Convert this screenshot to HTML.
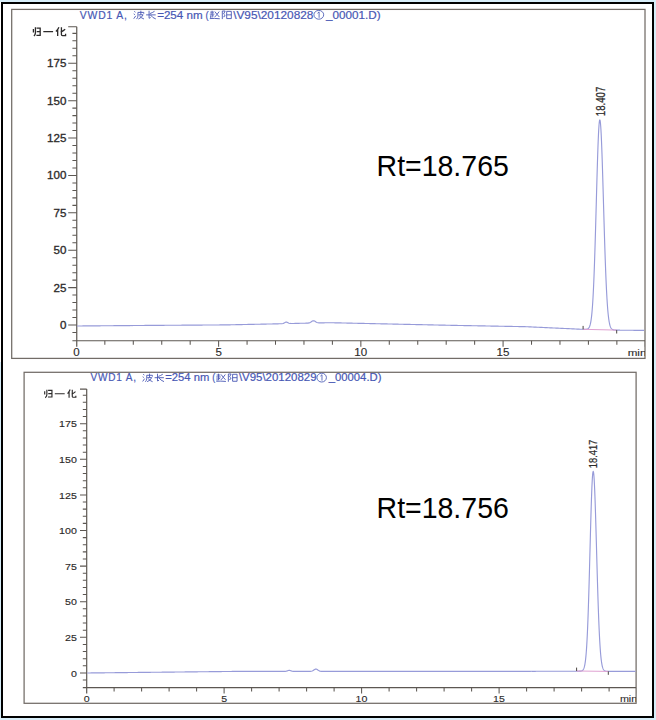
<!DOCTYPE html>
<html><head><meta charset="utf-8"><style>
html,body{margin:0;padding:0;background:#fff;}
body{width:656px;height:720px;overflow:hidden;}
svg{display:block;font-family:"Liberation Sans", sans-serif;}
</style></head><body>
<svg width="656" height="720" viewBox="0 0 656 720">
<rect x="0" y="0" width="656" height="720" fill="#fff"/>
<rect x="0" y="0" width="656" height="2" fill="#d7edf8"/>
<rect x="654" y="0" width="2" height="720" fill="#d7edf8"/>
<rect x="0" y="718" width="656" height="2" fill="#d7edf8"/>
<rect x="0" y="362" width="1" height="358" fill="#d7edf8"/>
<rect x="2" y="3" width="651" height="714" fill="none" stroke="#000" stroke-width="2"/>
<clipPath id="c1"><rect x="11.7" y="9.4" width="633.3" height="349.0"/></clipPath>
<rect x="11.7" y="9.4" width="633.3" height="349.0" fill="none" stroke="#726c67" stroke-width="1.25"/>
<g clip-path="url(#c1)">
<path d="M76.75 26.70V346.70" stroke="#5c5752" stroke-width="1.2" fill="none"/>
<path d="M72.40 340.70H645.30" stroke="#5c5752" stroke-width="1.15" fill="none"/>
<path d="M72.40 332.48H76.75 M68.20 325.00H76.75 M72.40 317.52H76.75 M72.40 310.04H76.75 M72.40 302.57H76.75 M72.40 295.09H76.75 M68.20 287.61H76.75 M72.40 280.13H76.75 M72.40 272.65H76.75 M72.40 265.18H76.75 M72.40 257.70H76.75 M68.20 250.22H76.75 M72.40 242.74H76.75 M72.40 235.26H76.75 M72.40 227.79H76.75 M72.40 220.31H76.75 M68.20 212.83H76.75 M72.40 205.35H76.75 M72.40 197.87H76.75 M72.40 190.40H76.75 M72.40 182.92H76.75 M68.20 175.44H76.75 M72.40 167.96H76.75 M72.40 160.48H76.75 M72.40 153.01H76.75 M72.40 145.53H76.75 M68.20 138.05H76.75 M72.40 130.57H76.75 M72.40 123.09H76.75 M72.40 115.62H76.75 M72.40 108.14H76.75 M68.20 100.66H76.75 M72.40 93.18H76.75 M72.40 85.70H76.75 M72.40 78.23H76.75 M72.40 70.75H76.75 M68.20 63.27H76.75 M72.40 55.79H76.75 M72.40 48.31H76.75 M72.40 40.84H76.75 M72.40 33.36H76.75 M68.20 26.70H76.75 M104.84 340.70V344.70 M133.29 340.70V344.70 M161.74 340.70V344.70 M190.18 340.70V344.70 M218.62 340.70V346.70 M247.07 340.70V344.70 M275.51 340.70V344.70 M303.96 340.70V344.70 M332.40 340.70V344.70 M360.85 340.70V346.70 M389.29 340.70V344.70 M417.74 340.70V344.70 M446.19 340.70V344.70 M474.63 340.70V344.70 M503.08 340.70V346.70 M531.52 340.70V344.70 M559.97 340.70V344.70 M588.41 340.70V344.70 M616.86 340.70V344.70 M645.30 340.70V346.70" stroke="#5c5752" stroke-width="1.05" fill="none"/>
<text transform="translate(59.91,328.90) scale(1.1350,1)" font-size="10.2" fill="#2c2a2a" stroke="#2c2a2a" stroke-width="0.3">0</text>
<text transform="translate(53.51,291.51) scale(1.1350,1)" font-size="10.2" fill="#2c2a2a" stroke="#2c2a2a" stroke-width="0.3">25</text>
<text transform="translate(53.48,254.12) scale(1.1350,1)" font-size="10.2" fill="#2c2a2a" stroke="#2c2a2a" stroke-width="0.3">50</text>
<text transform="translate(53.51,216.73) scale(1.1350,1)" font-size="10.2" fill="#2c2a2a" stroke="#2c2a2a" stroke-width="0.3">75</text>
<text transform="translate(47.04,179.34) scale(1.1350,1)" font-size="10.2" fill="#2c2a2a" stroke="#2c2a2a" stroke-width="0.3">100</text>
<text transform="translate(47.07,141.95) scale(1.1350,1)" font-size="10.2" fill="#2c2a2a" stroke="#2c2a2a" stroke-width="0.3">125</text>
<text transform="translate(47.04,104.56) scale(1.1350,1)" font-size="10.2" fill="#2c2a2a" stroke="#2c2a2a" stroke-width="0.3">150</text>
<text transform="translate(47.07,67.17) scale(1.1350,1)" font-size="10.2" fill="#2c2a2a" stroke="#2c2a2a" stroke-width="0.3">175</text>
<path transform="translate(32.00,27.00) scale(0.8800,0.9000)" d="M1.6 2.2V6.2 M3.9 0.3V6.5Q3.8 8.6 2.2 10 M5.2 1.2H9.3V9.2H5.0 M5.4 5.1H9.2" fill="none" stroke="#2c2a2a" stroke-width="1.3" vector-effect="non-scaling-stroke"/>
<path transform="translate(43.00,27.00) scale(1.0400,0.9000)" d="M0.3 5.2H9.7" fill="none" stroke="#2c2a2a" stroke-width="1.3" vector-effect="non-scaling-stroke"/>
<path transform="translate(55.60,27.00) scale(1.0400,0.9000)" d="M3.2 0.2Q2.2 3 0.3 5 M2.0 3.2V10 M9.2 2.6Q7.2 4.6 4.8 5.8 M5.6 0.3V8.6Q5.6 9.5 6.6 9.5H9.6V7.6" fill="none" stroke="#2c2a2a" stroke-width="1.3" vector-effect="non-scaling-stroke"/>
<text transform="translate(73.18,356.10) scale(1.1350,1)" font-size="10.2" fill="#2c2a2a" stroke="#2c2a2a" stroke-width="0.12">0</text>
<text transform="translate(215.42,356.10) scale(1.1350,1)" font-size="10.2" fill="#2c2a2a" stroke="#2c2a2a" stroke-width="0.12">5</text>
<text transform="translate(354.20,356.10) scale(1.1350,1)" font-size="10.2" fill="#2c2a2a" stroke="#2c2a2a" stroke-width="0.12">10</text>
<text transform="translate(496.44,356.10) scale(1.1350,1)" font-size="10.2" fill="#2c2a2a" stroke="#2c2a2a" stroke-width="0.12">15</text>
<text transform="translate(627.63,356.10) scale(1.2500,1)" font-size="9.3" fill="#2c2a2a" stroke="#2c2a2a" stroke-width="0.12">min</text>
<text transform="translate(79.75,18.50) scale(1.0000,1)" font-size="10.4" letter-spacing="0.820" fill="#4757b4" stroke="#4757b4" stroke-width="0.18">VWD1 A,</text>
<path transform="translate(133.40,10.50) scale(1.0800,0.8600)" d="M0.8 1.0L1.9 2.0 M0.3 3.9L1.4 4.9 M0.3 9.6L2.2 6.2 M4.2 2.2H9.6V3.8 M6.9 0.2V5.0 M4.2 2.2V6.5Q4.0 8.6 2.9 10 M4.7 5.0H9.0Q7.8 8.4 4.6 9.9 M5.6 6.3Q7.4 8.9 9.8 9.9" fill="none" stroke="#4757b4" stroke-width="0.9" vector-effect="non-scaling-stroke"/>
<path transform="translate(145.80,10.50) scale(1.0200,0.8600)" d="M3.2 0.3V9.0L4.8 8.2 M8.6 0.9Q6.4 2.6 4.0 3.6 M0.3 5.1H9.7 M4.6 5.2Q6.6 8.6 9.8 9.8" fill="none" stroke="#4757b4" stroke-width="0.9" vector-effect="non-scaling-stroke"/>
<text transform="translate(157.13,18.50) scale(1.1170,1)" font-size="10.4" fill="#4757b4" stroke="#4757b4" stroke-width="0.18">=254 nm</text>
<text transform="translate(205.62,18.50) scale(0.9066,1)" font-size="10.4" fill="#4757b4" stroke="#4757b4" stroke-width="0.18">(</text>
<path transform="translate(209.60,10.50) scale(1.0400,0.8600)" d="M0.6 1.9H4.2 M2.4 0.3V4.2 M0.2 4.2H4.6 M2.4 4.2V8.2 M2.4 6.2H4.0 M1.0 5.6V8.6 M0.2 9.4Q4.5 8.9 9.8 9.6 M5.0 1.2Q7.0 4.6 9.4 7.6 M9.2 1.2Q7.0 5.2 4.8 7.8" fill="none" stroke="#4757b4" stroke-width="0.9" vector-effect="non-scaling-stroke"/>
<path transform="translate(221.20,10.50) scale(1.1000,0.8600)" d="M1.0 0.6V10 M1.0 0.6H3.6L2.2 4.0Q3.8 5.4 3.3 6.6Q3.0 7.5 2.0 7.2 M5.0 1.0H9.2V9.4H5.0Z M5.0 5.1H9.2" fill="none" stroke="#4757b4" stroke-width="0.9" vector-effect="non-scaling-stroke"/>
<text transform="translate(233.20,18.50) scale(1.1383,1)" font-size="10.4" fill="#4757b4" stroke="#4757b4" stroke-width="0.18">\V95\20120828</text>
<ellipse cx="318.80" cy="14.80" rx="4.90" ry="4.40" fill="none" stroke="#4757b4" stroke-width="0.85"/><path d="M317.50 13.30L319.10 11.90V17.80" fill="none" stroke="#4757b4" stroke-width="0.85"/>
<text transform="translate(326.08,18.50) scale(1.1231,1)" font-size="10.4" fill="#4757b4" stroke="#4757b4" stroke-width="0.18">_00001.D)</text>
</g>
<path d="M77.00 325.99 L78.00 325.98 L79.00 325.98 L80.00 325.97 L81.00 325.96 L82.00 325.95 L83.00 325.94 L84.00 325.94 L85.00 325.93 L86.00 325.92 L87.00 325.91 L88.00 325.90 L89.00 325.89 L90.00 325.89 L91.00 325.88 L92.00 325.87 L93.00 325.86 L94.00 325.85 L95.00 325.85 L96.00 325.84 L97.00 325.83 L98.00 325.82 L99.00 325.81 L100.00 325.81 L101.00 325.80 L102.00 325.79 L103.00 325.78 L104.00 325.77 L105.00 325.76 L106.00 325.76 L107.00 325.75 L108.00 325.74 L109.00 325.73 L110.00 325.72 L111.00 325.72 L112.00 325.71 L113.00 325.70 L114.00 325.69 L115.00 325.68 L116.00 325.68 L117.00 325.67 L118.00 325.66 L119.00 325.65 L120.00 325.64 L121.00 325.64 L122.00 325.63 L123.00 325.62 L124.00 325.61 L125.00 325.60 L126.00 325.59 L127.00 325.59 L128.00 325.58 L129.00 325.57 L130.00 325.56 L131.00 325.55 L132.00 325.55 L133.00 325.54 L134.00 325.53 L135.00 325.52 L136.00 325.51 L137.00 325.51 L138.00 325.50 L139.00 325.49 L140.00 325.48 L141.00 325.47 L142.00 325.46 L143.00 325.46 L144.00 325.45 L145.00 325.44 L146.00 325.43 L147.00 325.42 L148.00 325.42 L149.00 325.41 L150.00 325.40 L151.00 325.39 L152.00 325.39 L153.00 325.38 L154.00 325.37 L155.00 325.37 L156.00 325.36 L157.00 325.35 L158.00 325.35 L159.00 325.34 L160.00 325.33 L161.00 325.33 L162.00 325.32 L163.00 325.31 L164.00 325.31 L165.00 325.30 L166.00 325.29 L167.00 325.29 L168.00 325.28 L169.00 325.27 L170.00 325.27 L171.00 325.26 L172.00 325.26 L173.00 325.25 L174.00 325.24 L175.00 325.24 L176.00 325.23 L177.00 325.22 L178.00 325.22 L179.00 325.21 L180.00 325.20 L181.00 325.20 L182.00 325.19 L183.00 325.18 L184.00 325.18 L185.00 325.17 L186.00 325.16 L187.00 325.16 L188.00 325.15 L189.00 325.14 L190.00 325.14 L191.00 325.13 L192.00 325.12 L193.00 325.12 L194.00 325.11 L195.00 325.10 L196.00 325.10 L197.00 325.09 L198.00 325.08 L199.00 325.08 L200.00 325.07 L201.00 325.06 L202.00 325.06 L203.00 325.05 L204.00 325.04 L205.00 325.04 L206.00 325.03 L207.00 325.02 L208.00 325.02 L209.00 325.01 L210.00 325.01 L211.00 325.00 L212.00 324.99 L213.00 324.99 L214.00 324.98 L215.00 324.97 L216.00 324.97 L217.00 324.96 L218.00 324.95 L219.00 324.95 L220.00 324.94 L221.00 324.93 L222.00 324.93 L223.00 324.92 L224.00 324.91 L225.00 324.91 L226.00 324.90 L227.00 324.88 L228.00 324.86 L229.00 324.84 L230.00 324.82 L231.00 324.80 L232.00 324.78 L233.00 324.76 L234.00 324.73 L235.00 324.71 L236.00 324.69 L237.00 324.67 L238.00 324.65 L239.00 324.63 L240.00 324.61 L241.00 324.59 L242.00 324.57 L243.00 324.55 L244.00 324.53 L245.00 324.51 L246.00 324.49 L247.00 324.47 L248.00 324.44 L249.00 324.42 L250.00 324.40 L251.00 324.38 L252.00 324.36 L253.00 324.34 L254.00 324.32 L255.00 324.30 L256.00 324.28 L257.00 324.26 L258.00 324.24 L259.00 324.22 L260.00 324.20 L261.00 324.18 L262.00 324.16 L263.00 324.13 L264.00 324.11 L265.00 324.09 L266.00 324.07 L267.00 324.05 L268.00 324.03 L269.00 324.01 L270.00 323.99 L271.00 323.97 L272.00 323.95 L273.00 323.93 L274.00 323.91 L275.00 323.89 L276.00 323.87 L277.00 323.84 L278.00 323.82 L279.00 323.80 L280.00 323.78 L281.00 323.76 L282.00 323.70 L283.00 323.53 L284.00 323.13 L285.00 322.52 L286.00 322.08 L287.00 322.17 L288.00 322.69 L289.00 323.19 L290.00 323.44 L291.00 323.50 L292.00 323.50 L293.00 323.47 L294.00 323.45 L295.00 323.42 L296.00 323.40 L297.00 323.37 L298.00 323.35 L299.00 323.32 L300.00 323.30 L301.00 323.28 L302.00 323.26 L303.00 323.24 L304.00 323.22 L305.00 323.20 L306.00 323.18 L307.00 323.15 L308.00 323.09 L309.00 322.94 L310.00 322.60 L311.00 322.03 L312.00 321.32 L313.00 320.81 L314.00 320.79 L315.00 321.26 L316.00 321.93 L317.00 322.46 L318.00 322.76 L319.00 322.87 L320.00 322.89 L321.00 322.88 L322.00 322.86 L323.00 322.84 L324.00 322.82 L325.00 322.80 L326.00 322.78 L327.00 322.76 L328.00 322.74 L329.00 322.72 L330.00 322.70 L331.00 322.72 L332.00 322.74 L333.00 322.77 L334.00 322.79 L335.00 322.81 L336.00 322.83 L337.00 322.85 L338.00 322.87 L339.00 322.90 L340.00 322.92 L341.00 322.94 L342.00 322.96 L343.00 322.98 L344.00 323.00 L345.00 323.03 L346.00 323.05 L347.00 323.07 L348.00 323.09 L349.00 323.11 L350.00 323.13 L351.00 323.16 L352.00 323.18 L353.00 323.20 L354.00 323.22 L355.00 323.24 L356.00 323.27 L357.00 323.29 L358.00 323.31 L359.00 323.33 L360.00 323.35 L361.00 323.37 L362.00 323.40 L363.00 323.42 L364.00 323.44 L365.00 323.46 L366.00 323.48 L367.00 323.50 L368.00 323.53 L369.00 323.55 L370.00 323.57 L371.00 323.59 L372.00 323.61 L373.00 323.63 L374.00 323.66 L375.00 323.68 L376.00 323.70 L377.00 323.72 L378.00 323.74 L379.00 323.76 L380.00 323.79 L381.00 323.81 L382.00 323.83 L383.00 323.85 L384.00 323.87 L385.00 323.89 L386.00 323.92 L387.00 323.94 L388.00 323.96 L389.00 323.98 L390.00 324.00 L391.00 324.02 L392.00 324.05 L393.00 324.07 L394.00 324.09 L395.00 324.11 L396.00 324.13 L397.00 324.15 L398.00 324.18 L399.00 324.20 L400.00 324.22 L401.00 324.24 L402.00 324.26 L403.00 324.28 L404.00 324.31 L405.00 324.33 L406.00 324.35 L407.00 324.37 L408.00 324.39 L409.00 324.41 L410.00 324.44 L411.00 324.46 L412.00 324.48 L413.00 324.50 L414.00 324.52 L415.00 324.54 L416.00 324.56 L417.00 324.59 L418.00 324.61 L419.00 324.63 L420.00 324.65 L421.00 324.67 L422.00 324.69 L423.00 324.72 L424.00 324.74 L425.00 324.76 L426.00 324.78 L427.00 324.80 L428.00 324.82 L429.00 324.85 L430.00 324.87 L431.00 324.89 L432.00 324.91 L433.00 324.93 L434.00 324.95 L435.00 324.98 L436.00 325.00 L437.00 325.02 L438.00 325.04 L439.00 325.06 L440.00 325.08 L441.00 325.11 L442.00 325.13 L443.00 325.15 L444.00 325.17 L445.00 325.19 L446.00 325.21 L447.00 325.24 L448.00 325.26 L449.00 325.28 L450.00 325.30 L451.00 325.32 L452.00 325.34 L453.00 325.36 L454.00 325.37 L455.00 325.39 L456.00 325.41 L457.00 325.43 L458.00 325.45 L459.00 325.47 L460.00 325.48 L461.00 325.50 L462.00 325.52 L463.00 325.54 L464.00 325.56 L465.00 325.58 L466.00 325.59 L467.00 325.61 L468.00 325.63 L469.00 325.65 L470.00 325.67 L471.00 325.69 L472.00 325.71 L473.00 325.72 L474.00 325.74 L475.00 325.76 L476.00 325.78 L477.00 325.80 L478.00 325.82 L479.00 325.83 L480.00 325.85 L481.00 325.87 L482.00 325.89 L483.00 325.91 L484.00 325.93 L485.00 325.94 L486.00 325.96 L487.00 325.98 L488.00 326.00 L489.00 326.02 L490.00 326.04 L491.00 326.06 L492.00 326.07 L493.00 326.09 L494.00 326.11 L495.00 326.13 L496.00 326.15 L497.00 326.17 L498.00 326.18 L499.00 326.20 L500.00 326.22 L501.00 326.24 L502.00 326.26 L503.00 326.28 L504.00 326.29 L505.00 326.31 L506.00 326.33 L507.00 326.35 L508.00 326.37 L509.00 326.39 L510.00 326.41 L511.00 326.42 L512.00 326.44 L513.00 326.46 L514.00 326.48 L515.00 326.50 L516.00 326.52 L517.00 326.53 L518.00 326.55 L519.00 326.57 L520.00 326.59 L521.00 326.61 L522.00 326.63 L523.00 326.64 L524.00 326.66 L525.00 326.68 L526.00 326.70 L527.00 326.75 L528.00 326.79 L529.00 326.84 L530.00 326.89 L531.00 326.93 L532.00 326.98 L533.00 327.02 L534.00 327.07 L535.00 327.12 L536.00 327.16 L537.00 327.21 L538.00 327.26 L539.00 327.30 L540.00 327.35 L541.00 327.39 L542.00 327.44 L543.00 327.49 L544.00 327.53 L545.00 327.58 L546.00 327.63 L547.00 327.67 L548.00 327.72 L549.00 327.76 L550.00 327.81 L551.00 327.86 L552.00 327.90 L553.00 327.95 L554.00 328.00 L555.00 328.04 L556.00 328.09 L557.00 328.14 L558.00 328.18 L559.00 328.23 L560.00 328.27 L561.00 328.32 L562.00 328.37 L563.00 328.41 L564.00 328.46 L565.00 328.51 L566.00 328.55 L567.00 328.60 L568.00 328.64 L569.00 328.69 L570.00 328.74 L571.00 328.78 L572.00 328.83 L573.00 328.88 L574.00 328.92 L575.00 328.97 L576.00 329.01 L577.00 329.06 L578.00 329.11 L579.00 329.15 L580.00 329.20 L580.25 329.21 L580.50 329.21 L580.75 329.22 L581.00 329.22 L581.25 329.23 L581.50 329.24 L581.75 329.24 L582.00 329.25 L582.25 329.26 L582.50 329.26 L582.75 329.27 L583.00 329.27 L583.25 329.28 L583.50 329.28 L583.75 329.29 L584.00 329.29 L584.25 329.30 L584.50 329.30 L584.75 329.30 L585.00 329.30 L585.25 329.29 L585.50 329.29 L585.75 329.28 L586.00 329.26 L586.25 329.24 L586.50 329.21 L586.75 329.17 L587.00 329.11 L587.25 329.04 L587.50 328.95 L587.75 328.83 L588.00 328.69 L588.25 328.50 L588.50 328.27 L588.75 327.98 L589.00 327.63 L589.25 327.20 L589.50 326.68 L589.75 326.04 L590.00 325.29 L590.25 324.38 L590.50 323.32 L590.75 322.06 L591.00 320.58 L591.25 318.87 L591.50 316.88 L591.75 314.60 L592.00 311.99 L592.25 309.02 L592.50 305.68 L592.75 301.93 L593.00 297.75 L593.25 293.11 L593.50 288.02 L593.75 282.45 L594.00 276.40 L594.25 269.88 L594.50 262.90 L594.75 255.48 L595.00 247.65 L595.25 239.46 L595.50 230.95 L595.75 222.18 L596.00 213.23 L596.25 204.17 L596.50 195.10 L596.75 186.10 L597.00 177.28 L597.25 168.74 L597.50 160.58 L597.75 152.91 L598.00 145.84 L598.25 139.45 L598.50 133.85 L598.75 129.10 L599.00 125.28 L599.25 122.46 L599.50 120.66 L599.75 119.92 L600.00 120.21 L600.25 121.47 L600.50 123.68 L600.75 126.81 L601.00 130.82 L601.25 135.64 L601.50 141.23 L601.75 147.49 L602.00 154.37 L602.25 161.76 L602.50 169.59 L602.75 177.75 L603.00 186.17 L603.25 194.75 L603.50 203.40 L603.75 212.05 L604.00 220.61 L604.25 229.02 L604.50 237.21 L604.75 245.13 L605.00 252.73 L605.25 259.97 L605.50 266.83 L605.75 273.27 L606.00 279.30 L606.25 284.89 L606.50 290.05 L606.75 294.78 L607.00 299.09 L607.25 303.00 L607.50 306.52 L607.75 309.68 L608.00 312.49 L608.25 314.99 L608.50 317.18 L608.75 319.11 L609.00 320.79 L609.25 322.24 L609.50 323.50 L609.75 324.57 L610.00 325.49 L610.25 326.27 L610.50 326.94 L610.75 327.49 L611.00 327.96 L611.25 328.34 L611.50 328.67 L611.75 328.93 L612.00 329.15 L612.25 329.33 L612.50 329.48 L612.75 329.60 L613.00 329.69 L613.25 329.77 L613.50 329.84 L613.75 329.89 L614.00 329.93 L614.25 329.96 L614.50 329.99 L614.75 330.02 L615.00 330.03 L615.25 330.05 L615.50 330.06 L615.75 330.08 L616.00 330.09 L616.25 330.10 L616.50 330.11 L616.75 330.11 L617.00 330.12 L617.25 330.13 L617.50 330.14 L617.75 330.14 L618.00 330.15 L618.25 330.16 L618.50 330.16 L618.75 330.17 L619.00 330.17 L619.25 330.18 L619.50 330.19 L619.75 330.19 L620.00 330.20 L621.00 330.21 L622.00 330.22 L623.00 330.22 L624.00 330.23 L625.00 330.24 L626.00 330.25 L627.00 330.25 L628.00 330.26 L629.00 330.27 L630.00 330.28 L631.00 330.28 L632.00 330.29 L633.00 330.30 L634.00 330.31 L635.00 330.32 L636.00 330.32 L637.00 330.33 L638.00 330.34 L639.00 330.35 L640.00 330.35 L641.00 330.36 L642.00 330.37 L643.00 330.38 L644.00 330.38" stroke="#979bd9" stroke-width="1.15" fill="none" stroke-linejoin="round"/>
<path d="M583.10 329.30L616.70 330.10" stroke="#e0a2d2" stroke-width="1" fill="none"/>
<path d="M583.10 325.90V329.30 M616.70 330.10V333.50" stroke="#4a4540" stroke-width="1" fill="none"/>
<text transform="translate(604.80,116.13) scale(1.3104,1) rotate(-90)" font-size="9.618" fill="#2c2a2a" stroke="#2c2a2a" stroke-width="0.2">18.407</text>
<text transform="translate(376.56,175.6) scale(1,1.04)" font-size="28.5" fill="#000">Rt=18.765</text>
<clipPath id="c2"><rect x="24.1" y="372.3" width="612.0" height="330.99999999999994"/></clipPath>
<rect x="24.1" y="372.3" width="612.0" height="330.99999999999994" fill="none" stroke="#726c67" stroke-width="1.25"/>
<g clip-path="url(#c2)">
<path d="M86.70 389.10V693.40" stroke="#5c5752" stroke-width="1.2" fill="none"/>
<path d="M82.80 687.60H636.60" stroke="#5c5752" stroke-width="1.15" fill="none"/>
<path d="M82.80 680.02H86.70 M80.00 672.90H86.70 M82.80 665.78H86.70 M82.80 658.66H86.70 M82.80 651.54H86.70 M82.80 644.42H86.70 M80.00 637.30H86.70 M82.80 630.18H86.70 M82.80 623.06H86.70 M82.80 615.94H86.70 M82.80 608.82H86.70 M80.00 601.70H86.70 M82.80 594.58H86.70 M82.80 587.46H86.70 M82.80 580.34H86.70 M82.80 573.22H86.70 M80.00 566.10H86.70 M82.80 558.98H86.70 M82.80 551.86H86.70 M82.80 544.74H86.70 M82.80 537.62H86.70 M80.00 530.50H86.70 M82.80 523.38H86.70 M82.80 516.26H86.70 M82.80 509.14H86.70 M82.80 502.02H86.70 M80.00 494.90H86.70 M82.80 487.78H86.70 M82.80 480.66H86.70 M82.80 473.54H86.70 M82.80 466.42H86.70 M80.00 459.30H86.70 M82.80 452.18H86.70 M82.80 445.06H86.70 M82.80 437.94H86.70 M82.80 430.82H86.70 M80.00 423.70H86.70 M82.80 416.58H86.70 M82.80 409.46H86.70 M82.80 402.34H86.70 M82.80 395.22H86.70 M80.00 389.10H86.70 M114.10 687.60V691.50 M141.60 687.60V691.50 M169.10 687.60V691.50 M196.60 687.60V691.50 M224.10 687.60V693.40 M251.60 687.60V691.50 M279.10 687.60V691.50 M306.60 687.60V691.50 M334.10 687.60V691.50 M361.60 687.60V693.40 M389.10 687.60V691.50 M416.60 687.60V691.50 M444.10 687.60V691.50 M471.60 687.60V691.50 M499.10 687.60V693.40 M526.60 687.60V691.50 M554.10 687.60V691.50 M581.60 687.60V691.50 M609.10 687.60V691.50 M636.60 687.60V693.40" stroke="#5c5752" stroke-width="1.05" fill="none"/>
<text transform="translate(70.90,676.50) scale(1.1200,1)" font-size="9.5" fill="#2c2a2a" stroke="#2c2a2a" stroke-width="0.15">0</text>
<text transform="translate(65.01,640.90) scale(1.1200,1)" font-size="9.5" fill="#2c2a2a" stroke="#2c2a2a" stroke-width="0.15">25</text>
<text transform="translate(64.98,605.30) scale(1.1200,1)" font-size="9.5" fill="#2c2a2a" stroke="#2c2a2a" stroke-width="0.15">50</text>
<text transform="translate(65.01,569.70) scale(1.1200,1)" font-size="9.5" fill="#2c2a2a" stroke="#2c2a2a" stroke-width="0.15">75</text>
<text transform="translate(59.06,534.10) scale(1.1200,1)" font-size="9.5" fill="#2c2a2a" stroke="#2c2a2a" stroke-width="0.15">100</text>
<text transform="translate(59.09,498.50) scale(1.1200,1)" font-size="9.5" fill="#2c2a2a" stroke="#2c2a2a" stroke-width="0.15">125</text>
<text transform="translate(59.06,462.90) scale(1.1200,1)" font-size="9.5" fill="#2c2a2a" stroke="#2c2a2a" stroke-width="0.15">150</text>
<text transform="translate(59.09,427.30) scale(1.1200,1)" font-size="9.5" fill="#2c2a2a" stroke="#2c2a2a" stroke-width="0.15">175</text>
<path transform="translate(43.20,389.40) scale(0.9400,0.8300)" d="M1.6 2.2V6.2 M3.9 0.3V6.5Q3.8 8.6 2.2 10 M5.2 1.2H9.3V9.2H5.0 M5.4 5.1H9.2" fill="none" stroke="#2c2a2a" stroke-width="1.15" vector-effect="non-scaling-stroke"/>
<path transform="translate(54.50,389.40) scale(1.0500,0.8300)" d="M0.3 5.2H9.7" fill="none" stroke="#2c2a2a" stroke-width="1.15" vector-effect="non-scaling-stroke"/>
<path transform="translate(67.30,389.40) scale(0.8900,0.8300)" d="M3.2 0.2Q2.2 3 0.3 5 M2.0 3.2V10 M9.2 2.6Q7.2 4.6 4.8 5.8 M5.6 0.3V8.6Q5.6 9.5 6.6 9.5H9.6V7.6" fill="none" stroke="#2c2a2a" stroke-width="1.15" vector-effect="non-scaling-stroke"/>
<text transform="translate(83.64,701.60) scale(1.1200,1)" font-size="9.5" fill="#2c2a2a" stroke="#2c2a2a" stroke-width="0.1">0</text>
<text transform="translate(221.15,701.60) scale(1.1200,1)" font-size="9.5" fill="#2c2a2a" stroke="#2c2a2a" stroke-width="0.1">5</text>
<text transform="translate(355.49,701.60) scale(1.1200,1)" font-size="9.5" fill="#2c2a2a" stroke="#2c2a2a" stroke-width="0.1">10</text>
<text transform="translate(493.00,701.60) scale(1.1200,1)" font-size="9.5" fill="#2c2a2a" stroke="#2c2a2a" stroke-width="0.1">15</text>
<text transform="translate(619.88,701.60) scale(1.2000,1)" font-size="9.0" fill="#2c2a2a" stroke="#2c2a2a" stroke-width="0.1">min</text>
<text transform="translate(90.46,381.20) scale(1.0000,1)" font-size="10.0" letter-spacing="0.833" fill="#4757b4" stroke="#4757b4" stroke-width="0.18">VWD1 A,</text>
<path transform="translate(142.35,373.46) scale(1.0447,0.8319)" d="M0.8 1.0L1.9 2.0 M0.3 3.9L1.4 4.9 M0.3 9.6L2.2 6.2 M4.2 2.2H9.6V3.8 M6.9 0.2V5.0 M4.2 2.2V6.5Q4.0 8.6 2.9 10 M4.7 5.0H9.0Q7.8 8.4 4.6 9.9 M5.6 6.3Q7.4 8.9 9.8 9.9" fill="none" stroke="#4757b4" stroke-width="0.9" vector-effect="non-scaling-stroke"/>
<path transform="translate(154.34,373.46) scale(0.9866,0.8319)" d="M3.2 0.3V9.0L4.8 8.2 M8.6 0.9Q6.4 2.6 4.0 3.6 M0.3 5.1H9.7 M4.6 5.2Q6.6 8.6 9.8 9.8" fill="none" stroke="#4757b4" stroke-width="0.9" vector-effect="non-scaling-stroke"/>
<text transform="translate(165.30,381.20) scale(1.1237,1)" font-size="10.0" fill="#4757b4" stroke="#4757b4" stroke-width="0.18">=254 nm</text>
<text transform="translate(212.20,381.20) scale(0.9121,1)" font-size="10.0" fill="#4757b4" stroke="#4757b4" stroke-width="0.18">(</text>
<path transform="translate(216.06,373.46) scale(1.0060,0.8319)" d="M0.6 1.9H4.2 M2.4 0.3V4.2 M0.2 4.2H4.6 M2.4 4.2V8.2 M2.4 6.2H4.0 M1.0 5.6V8.6 M0.2 9.4Q4.5 8.9 9.8 9.6 M5.0 1.2Q7.0 4.6 9.4 7.6 M9.2 1.2Q7.0 5.2 4.8 7.8" fill="none" stroke="#4757b4" stroke-width="0.9" vector-effect="non-scaling-stroke"/>
<path transform="translate(227.28,373.46) scale(1.0640,0.8319)" d="M1.0 0.6V10 M1.0 0.6H3.6L2.2 4.0Q3.8 5.4 3.3 6.6Q3.0 7.5 2.0 7.2 M5.0 1.0H9.2V9.4H5.0Z M5.0 5.1H9.2" fill="none" stroke="#4757b4" stroke-width="0.9" vector-effect="non-scaling-stroke"/>
<text transform="translate(238.88,381.20) scale(1.1458,1)" font-size="10.0" fill="#4757b4" stroke="#4757b4" stroke-width="0.18">\V95\20120829</text>
<ellipse cx="321.68" cy="377.62" rx="4.74" ry="4.40" fill="none" stroke="#4757b4" stroke-width="0.85"/><path d="M320.38 376.12L321.98 374.72V380.62" fill="none" stroke="#4757b4" stroke-width="0.85"/>
<text transform="translate(328.72,381.20) scale(1.1299,1)" font-size="10.0" fill="#4757b4" stroke="#4757b4" stroke-width="0.18">_00004.D)</text>
</g>
<path d="M87.20 672.99 L88.20 672.98 L89.20 672.97 L90.20 672.96 L91.20 672.94 L92.20 672.93 L93.20 672.92 L94.20 672.91 L95.20 672.90 L96.20 672.89 L97.20 672.88 L98.20 672.87 L99.20 672.86 L100.20 672.85 L101.20 672.84 L102.20 672.83 L103.20 672.82 L104.20 672.81 L105.20 672.80 L106.20 672.78 L107.20 672.77 L108.20 672.76 L109.20 672.75 L110.20 672.74 L111.20 672.73 L112.20 672.72 L113.20 672.71 L114.20 672.70 L115.20 672.69 L116.20 672.68 L117.20 672.67 L118.20 672.66 L119.20 672.65 L120.20 672.64 L121.20 672.62 L122.20 672.61 L123.20 672.60 L124.20 672.59 L125.20 672.58 L126.20 672.57 L127.20 672.56 L128.20 672.55 L129.20 672.54 L130.20 672.53 L131.20 672.52 L132.20 672.51 L133.20 672.50 L134.20 672.49 L135.20 672.48 L136.20 672.46 L137.20 672.45 L138.20 672.44 L139.20 672.43 L140.20 672.42 L141.20 672.41 L142.20 672.40 L143.20 672.39 L144.20 672.38 L145.20 672.37 L146.20 672.36 L147.20 672.35 L148.20 672.34 L149.20 672.33 L150.20 672.32 L151.20 672.30 L152.20 672.29 L153.20 672.28 L154.20 672.27 L155.20 672.26 L156.20 672.25 L157.20 672.24 L158.20 672.23 L159.20 672.22 L160.20 672.21 L161.20 672.20 L162.20 672.19 L163.20 672.18 L164.20 672.17 L165.20 672.16 L166.20 672.14 L167.20 672.13 L168.20 672.12 L169.20 672.11 L170.20 672.10 L171.20 672.09 L172.20 672.08 L173.20 672.07 L174.20 672.06 L175.20 672.05 L176.20 672.04 L177.20 672.03 L178.20 672.02 L179.20 672.01 L180.20 672.00 L181.20 671.98 L182.20 671.97 L183.20 671.96 L184.20 671.95 L185.20 671.94 L186.20 671.93 L187.20 671.92 L188.20 671.91 L189.20 671.90 L190.20 671.89 L191.20 671.88 L192.20 671.87 L193.20 671.86 L194.20 671.85 L195.20 671.84 L196.20 671.82 L197.20 671.81 L198.20 671.80 L199.20 671.79 L200.20 671.78 L201.20 671.77 L202.20 671.76 L203.20 671.75 L204.20 671.74 L205.20 671.73 L206.20 671.72 L207.20 671.71 L208.20 671.70 L209.20 671.69 L210.20 671.68 L211.20 671.66 L212.20 671.65 L213.20 671.64 L214.20 671.63 L215.20 671.62 L216.20 671.61 L217.20 671.60 L218.20 671.59 L219.20 671.58 L220.20 671.57 L221.20 671.56 L222.20 671.55 L223.20 671.54 L224.20 671.53 L225.20 671.52 L226.20 671.50 L227.20 671.49 L228.20 671.48 L229.20 671.47 L230.20 671.46 L231.20 671.45 L232.20 671.44 L233.20 671.43 L234.20 671.42 L235.20 671.41 L236.20 671.40 L237.20 671.40 L238.20 671.40 L239.20 671.40 L240.20 671.40 L241.20 671.40 L242.20 671.40 L243.20 671.40 L244.20 671.40 L245.20 671.40 L246.20 671.40 L247.20 671.40 L248.20 671.40 L249.20 671.40 L250.20 671.40 L251.20 671.40 L252.20 671.40 L253.20 671.40 L254.20 671.40 L255.20 671.40 L256.20 671.40 L257.20 671.40 L258.20 671.40 L259.20 671.40 L260.20 671.40 L261.20 671.40 L262.20 671.40 L263.20 671.40 L264.20 671.40 L265.20 671.40 L266.20 671.40 L267.20 671.40 L268.20 671.40 L269.20 671.40 L270.20 671.40 L271.20 671.40 L272.20 671.40 L273.20 671.40 L274.20 671.40 L275.20 671.40 L276.20 671.40 L277.20 671.40 L278.20 671.40 L279.20 671.40 L280.20 671.40 L281.20 671.40 L282.20 671.40 L283.20 671.40 L284.20 671.40 L285.20 671.37 L286.20 671.24 L287.20 670.91 L288.20 670.44 L289.20 670.20 L290.20 670.44 L291.20 670.91 L292.20 671.24 L293.20 671.37 L294.20 671.40 L295.20 671.40 L296.20 671.40 L297.20 671.40 L298.20 671.40 L299.20 671.40 L300.20 671.40 L301.20 671.40 L302.20 671.40 L303.20 671.40 L304.20 671.40 L305.20 671.40 L306.20 671.40 L307.20 671.40 L308.20 671.40 L309.20 671.40 L310.20 671.37 L311.20 671.29 L312.20 671.04 L313.20 670.53 L314.20 669.79 L315.20 669.16 L316.20 669.03 L317.20 669.50 L318.20 670.25 L319.20 670.87 L320.20 671.21 L321.20 671.35 L322.20 671.39 L323.20 671.40 L324.20 671.40 L325.20 671.40 L326.20 671.40 L327.20 671.40 L328.20 671.40 L329.20 671.40 L330.20 671.40 L331.20 671.40 L332.20 671.40 L333.20 671.40 L334.20 671.40 L335.20 671.40 L336.20 671.40 L337.20 671.40 L338.20 671.40 L339.20 671.40 L340.20 671.40 L341.20 671.40 L342.20 671.40 L343.20 671.40 L344.20 671.40 L345.20 671.40 L346.20 671.40 L347.20 671.40 L348.20 671.40 L349.20 671.40 L350.20 671.40 L351.20 671.40 L352.20 671.40 L353.20 671.40 L354.20 671.40 L355.20 671.40 L356.20 671.40 L357.20 671.40 L358.20 671.40 L359.20 671.40 L360.20 671.40 L361.20 671.40 L362.20 671.40 L363.20 671.40 L364.20 671.40 L365.20 671.40 L366.20 671.40 L367.20 671.40 L368.20 671.40 L369.20 671.40 L370.20 671.40 L371.20 671.40 L372.20 671.40 L373.20 671.40 L374.20 671.40 L375.20 671.40 L376.20 671.40 L377.20 671.40 L378.20 671.40 L379.20 671.40 L380.20 671.40 L381.20 671.40 L382.20 671.40 L383.20 671.40 L384.20 671.40 L385.20 671.40 L386.20 671.40 L387.20 671.40 L388.20 671.40 L389.20 671.40 L390.20 671.40 L391.20 671.40 L392.20 671.40 L393.20 671.40 L394.20 671.40 L395.20 671.40 L396.20 671.40 L397.20 671.40 L398.20 671.40 L399.20 671.40 L400.20 671.40 L401.20 671.40 L402.20 671.40 L403.20 671.40 L404.20 671.40 L405.20 671.40 L406.20 671.40 L407.20 671.40 L408.20 671.40 L409.20 671.40 L410.20 671.40 L411.20 671.40 L412.20 671.40 L413.20 671.40 L414.20 671.40 L415.20 671.40 L416.20 671.40 L417.20 671.40 L418.20 671.40 L419.20 671.40 L420.20 671.40 L421.20 671.40 L422.20 671.40 L423.20 671.40 L424.20 671.40 L425.20 671.40 L426.20 671.40 L427.20 671.40 L428.20 671.40 L429.20 671.40 L430.20 671.40 L431.20 671.40 L432.20 671.40 L433.20 671.40 L434.20 671.40 L435.20 671.40 L436.20 671.40 L437.20 671.40 L438.20 671.40 L439.20 671.40 L440.20 671.40 L441.20 671.40 L442.20 671.40 L443.20 671.40 L444.20 671.40 L445.20 671.40 L446.20 671.40 L447.20 671.40 L448.20 671.40 L449.20 671.40 L450.20 671.40 L451.20 671.40 L452.20 671.40 L453.20 671.40 L454.20 671.40 L455.20 671.40 L456.20 671.40 L457.20 671.40 L458.20 671.40 L459.20 671.40 L460.20 671.40 L461.20 671.40 L462.20 671.40 L463.20 671.40 L464.20 671.40 L465.20 671.40 L466.20 671.40 L467.20 671.40 L468.20 671.40 L469.20 671.40 L470.20 671.40 L471.20 671.40 L472.20 671.40 L473.20 671.40 L474.20 671.40 L475.20 671.40 L476.20 671.40 L477.20 671.40 L478.20 671.40 L479.20 671.40 L480.20 671.40 L481.20 671.40 L482.20 671.40 L483.20 671.40 L484.20 671.40 L485.20 671.40 L486.20 671.40 L487.20 671.40 L488.20 671.40 L489.20 671.39 L490.20 671.39 L491.20 671.39 L492.20 671.39 L493.20 671.38 L494.20 671.38 L495.20 671.38 L496.20 671.38 L497.20 671.38 L498.20 671.37 L499.20 671.37 L500.20 671.37 L501.20 671.37 L502.20 671.37 L503.20 671.36 L504.20 671.36 L505.20 671.36 L506.20 671.36 L507.20 671.35 L508.20 671.35 L509.20 671.35 L510.20 671.35 L511.20 671.35 L512.20 671.34 L513.20 671.34 L514.20 671.34 L515.20 671.34 L516.20 671.34 L517.20 671.33 L518.20 671.33 L519.20 671.33 L520.20 671.33 L521.20 671.33 L522.20 671.32 L523.20 671.32 L524.20 671.32 L525.20 671.32 L526.20 671.31 L527.20 671.31 L528.20 671.31 L529.20 671.31 L530.20 671.31 L531.20 671.30 L532.20 671.30 L533.20 671.30 L534.20 671.30 L535.20 671.30 L536.20 671.29 L537.20 671.29 L538.20 671.29 L539.20 671.29 L540.20 671.28 L541.20 671.28 L542.20 671.28 L543.20 671.28 L544.20 671.28 L545.20 671.27 L546.20 671.27 L547.20 671.27 L548.20 671.27 L549.20 671.27 L550.20 671.26 L551.20 671.26 L552.20 671.26 L553.20 671.26 L554.20 671.25 L555.20 671.25 L556.20 671.25 L557.20 671.25 L558.20 671.25 L559.20 671.24 L560.20 671.24 L561.20 671.24 L562.20 671.24 L563.20 671.24 L564.20 671.23 L565.20 671.23 L566.20 671.23 L567.20 671.23 L568.20 671.23 L569.20 671.22 L570.20 671.22 L571.20 671.22 L572.20 671.22 L573.20 671.21 L573.45 671.21 L573.70 671.21 L573.95 671.21 L574.20 671.21 L574.45 671.21 L574.70 671.21 L574.95 671.21 L575.20 671.21 L575.45 671.21 L575.70 671.21 L575.95 671.21 L576.20 671.21 L576.45 671.21 L576.70 671.21 L576.95 671.21 L577.20 671.21 L577.45 671.20 L577.70 671.20 L577.95 671.20 L578.20 671.20 L578.45 671.20 L578.70 671.20 L578.95 671.19 L579.20 671.19 L579.45 671.18 L579.70 671.17 L579.95 671.16 L580.20 671.15 L580.45 671.13 L580.70 671.11 L580.95 671.07 L581.20 671.03 L581.45 670.97 L581.70 670.90 L581.95 670.80 L582.20 670.67 L582.45 670.51 L582.70 670.30 L582.95 670.04 L583.20 669.71 L583.45 669.30 L583.70 668.79 L583.95 668.16 L584.20 667.40 L584.45 666.47 L584.70 665.36 L584.95 664.03 L585.20 662.45 L585.45 660.59 L585.70 658.42 L585.95 655.89 L586.20 652.97 L586.45 649.63 L586.70 645.84 L586.95 641.57 L587.20 636.78 L587.45 631.47 L587.70 625.61 L587.95 619.21 L588.20 612.28 L588.45 604.83 L588.70 596.89 L588.95 588.51 L589.20 579.74 L589.45 570.66 L589.70 561.35 L589.95 551.92 L590.20 542.45 L590.45 533.09 L590.70 523.95 L590.95 515.15 L591.20 506.84 L591.45 499.14 L591.70 492.18 L591.95 486.06 L592.20 480.91 L592.45 476.80 L592.70 473.81 L592.95 472.00 L593.20 471.39 L593.45 471.94 L593.70 473.59 L593.95 476.31 L594.20 480.05 L594.45 484.76 L594.70 490.36 L594.95 496.75 L595.20 503.85 L595.45 511.55 L595.70 519.74 L595.95 528.30 L596.20 537.12 L596.45 546.10 L596.70 555.11 L596.95 564.08 L597.20 572.90 L597.45 581.49 L597.70 589.79 L597.95 597.73 L598.20 605.26 L598.45 612.35 L598.70 618.97 L598.95 625.10 L599.20 630.74 L599.45 635.89 L599.70 640.56 L599.95 644.76 L600.20 648.51 L600.45 651.85 L600.70 654.78 L600.95 657.36 L601.20 659.60 L601.45 661.53 L601.70 663.20 L601.95 664.61 L602.20 665.82 L602.45 666.83 L602.70 667.68 L602.95 668.39 L603.20 668.97 L603.45 669.45 L603.70 669.84 L603.95 670.16 L604.20 670.42 L604.45 670.63 L604.70 670.79 L604.95 670.92 L605.20 671.03 L605.45 671.11 L605.70 671.17 L605.95 671.22 L606.20 671.26 L606.45 671.29 L606.70 671.32 L606.95 671.33 L607.20 671.35 L607.45 671.36 L607.70 671.37 L607.95 671.37 L608.20 671.38 L608.45 671.38 L608.70 671.39 L608.95 671.39 L609.20 671.39 L609.45 671.39 L609.70 671.40 L609.95 671.40 L610.20 671.40 L610.45 671.40 L610.70 671.40 L610.95 671.40 L611.20 671.40 L611.45 671.39 L611.70 671.39 L611.95 671.39 L612.20 671.39 L612.45 671.39 L612.70 671.39 L612.95 671.39 L613.20 671.39 L613.45 671.39 L614.45 671.38 L615.45 671.38 L616.45 671.38 L617.45 671.37 L618.45 671.37 L619.45 671.36 L620.45 671.36 L621.45 671.36 L622.45 671.35 L623.45 671.35 L624.45 671.35 L625.45 671.34 L626.45 671.34 L627.45 671.34 L628.45 671.33 L629.45 671.33 L630.45 671.32 L631.45 671.32 L632.45 671.32 L633.45 671.31 L634.45 671.31 L635.45 671.31" stroke="#979bd9" stroke-width="1.15" fill="none" stroke-linejoin="round"/>
<path d="M576.60 671.00L608.30 671.40" stroke="#e0a2d2" stroke-width="1" fill="none"/>
<path d="M576.60 667.60V671.00 M608.30 671.40V674.80" stroke="#4a4540" stroke-width="1" fill="none"/>
<text transform="translate(597.00,468.21) scale(1.1998,1) rotate(-90)" font-size="9.311" fill="#2c2a2a" stroke="#2c2a2a" stroke-width="0.2">18.417</text>
<text transform="translate(376.56,517.6) scale(1,1.04)" font-size="28.5" fill="#000">Rt=18.756</text>
</svg>
</body></html>
